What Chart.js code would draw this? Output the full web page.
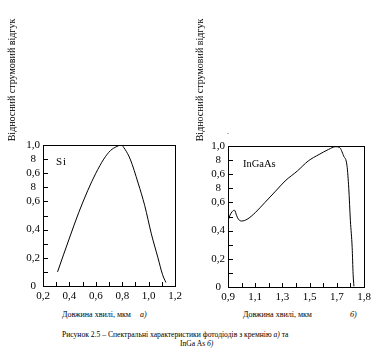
<!DOCTYPE html>
<html>
<head>
<meta charset="utf-8">
<script src="https://cdn.jsdelivr.net/npm/chart.js@4/dist/chart.umd.min.js"></script>
<style>
  html, body { margin:0; padding:0; background:#fff; }
  body { width:376px; height:357px; position:relative; overflow:hidden; font-family:"Liberation Serif", "DejaVu Serif", serif; color:#000; }
  canvas { position:absolute; }
  .t { position:absolute; white-space:nowrap; line-height:1; }
  .vt { position:absolute; width:140px; text-align:center; white-space:nowrap; font-size:10px; line-height:12px; transform:rotate(-90deg); transform-origin:50% 50%; }
</style>
</head>
<body>
<canvas id="ca" width="186" height="170" style="left:0;top:135px;width:186px;height:170px"></canvas>
<canvas id="cb" width="186" height="170" style="left:190px;top:135px;width:186px;height:170px"></canvas>

<div class="vt" style="left:-58px;top:74px">Відносний струмовий відгук</div>
<div class="vt" style="left:130px;top:74px">Відносний струмовий відгук</div>
<div class="t" style="left:227px;top:128px;font-size:8px">.</div>

<div class="t" style="left:56px;top:156px;font-size:11px;letter-spacing:1px">Si</div>
<div class="t" style="left:243px;top:159px;font-size:10.5px">InGaAs</div>

<div class="t" style="left:62px;top:311px;font-size:8px">Довжина хвилі, мкм</div>
<div class="t" style="left:140px;top:311px;font-size:8px;font-style:italic">а)</div>
<div class="t" style="left:243px;top:311px;font-size:8px">Довжина хвилі, мкм</div>
<div class="t" style="left:350px;top:311px;font-size:8px;font-style:italic">б)</div>

<div class="t" style="left:62px;top:331px;font-size:7.6px">Рисунок 2.5 – Спектральні характеристики фотодіодів з кремнію <i>а)</i> та</div>
<div class="t" style="left:180px;top:340px;font-size:7.6px">InGa As <i>б)</i></div>

<script>
// ---- data (Si photodiode) ----
const siX = [0.31, 0.40, 0.47, 0.54, 0.60, 0.66, 0.71, 0.76, 0.79, 0.82, 0.86, 0.92, 0.97, 1.02, 1.07, 1.105, 1.13];
const siY = [0.10, 0.34, 0.52, 0.68, 0.80, 0.90, 0.96, 0.99, 1.00, 0.97, 0.90, 0.73, 0.57, 0.37, 0.20, 0.08, 0.025];

// ---- data (InGaAs photodiode) ----
const ingX = [0.90, 0.915, 0.93, 0.947, 0.964, 0.977, 1.00, 1.04, 1.10, 1.17, 1.25, 1.32, 1.41, 1.49, 1.57, 1.64, 1.69, 1.72, 1.75, 1.775, 1.788, 1.80, 1.813, 1.82, 1.826];
const ingY = [0.47, 0.51, 0.534, 0.545, 0.505, 0.48, 0.468, 0.48, 0.527, 0.598, 0.68, 0.752, 0.823, 0.894, 0.94, 0.976, 0.995, 0.99, 0.93, 0.86, 0.70, 0.47, 0.28, 0.09, 0.005];

// ---- tick values and labels ----
const yTickVals = [0, 0.1, 0.2, 0.3, 0.4, 0.5, 0.6, 0.7, 0.8, 0.9, 1.0];
const yTickLabels = ['0', '', '0,2', '', '0,4', '', '0,6', '8', '0,6', '8', '1,0'];
const xTickValsA = [0.2, 0.3, 0.4, 0.5, 0.6, 0.7, 0.8, 0.9, 1.0, 1.1, 1.2];
const xTickLabelsA = ['0,2', '', '0,4', '', '0,6', '', '0,8', '', '1,0', '', '1,2'];
const xTickValsB = [0.9, 1.0, 1.1, 1.2, 1.3, 1.4, 1.5, 1.6, 1.7, 1.8, 1.9];
const xTickLabelsB = ['0,9', '', '1,1', '', '1,3', '', '1,5', '', '1,7', '', '1,8'];

const tickFont = { family: '"Liberation Serif", serif', size: 11 };

const frame = {
  id: 'frame',
  afterDraw(chart) {
    const { ctx, chartArea: a, scales } = chart;
    ctx.save();
    ctx.strokeStyle = '#000';
    ctx.lineWidth = 1;
    ctx.strokeRect(Math.round(a.left) + 0.5, Math.round(a.top) + 0.5, Math.round(a.right - a.left), Math.round(a.bottom - a.top));
    ctx.beginPath();
    scales.x.ticks.forEach(t => {
      const px = Math.round(scales.x.getPixelForValue(t.value)) + 0.5;
      ctx.moveTo(px, Math.round(a.bottom));
      ctx.lineTo(px, Math.round(a.bottom) - 4);
    });
    scales.y.ticks.forEach(t => {
      const py = Math.round(scales.y.getPixelForValue(t.value)) + 0.5;
      ctx.moveTo(Math.round(a.left), py);
      ctx.lineTo(Math.round(a.left) + 5, py);
    });
    ctx.stroke();
    ctx.restore();
  }
};

function makeChart(id, xs, ys, xMin, xMax, xVals, xLabels, pad, yW, xH) {
  return new Chart(document.getElementById(id), {
    type: 'line',
    data: {
      datasets: [{
        data: xs.map((x, i) => ({ x, y: ys[i] })),
        borderColor: '#000',
        borderWidth: 1,
        pointRadius: 0,
        fill: false,
        cubicInterpolationMode: 'monotone'
      }]
    },
    options: {
      responsive: false,
      animation: false,
      events: [],
      layout: { padding: pad },
      plugins: { legend: { display: false }, tooltip: { enabled: false } },
      scales: {
        x: {
          type: 'linear', min: xMin, max: xMax,
          afterBuildTicks: s => { s.ticks = xVals.map(v => ({ value: v })); },
          afterFit: s => { s.height = xH; },
          ticks: { autoSkip: false, maxRotation: 0, padding: 4, color: '#000', font: tickFont,
                   callback: (v, i) => xLabels[i] },
          grid: { display: false, drawTicks: false },
          border: { display: false }
        },
        y: {
          type: 'linear', min: 0, max: 1,
          afterBuildTicks: s => { s.ticks = yTickVals.map(v => ({ value: v })); },
          afterFit: s => { s.width = yW; },
          ticks: { autoSkip: false, padding: 3, crossAlign: 'center', color: '#000', font: tickFont,
                   callback: (v, i) => yTickLabels[i] },
          grid: { display: false, drawTicks: false },
          border: { display: false }
        }
      }
    },
    plugins: [frame]
  });
}

makeChart('ca', siX, siY, 0.2, 1.2, xTickValsA, xTickLabelsA, { left: 0, top: 10, right: 10, bottom: 0 }, 43, 19);
makeChart('cb', ingX, ingY, 0.9, 1.9, xTickValsB, xTickLabelsB, { left: 0, top: 11, right: 12, bottom: 0 }, 38, 18);
</script>
</body>
</html>
